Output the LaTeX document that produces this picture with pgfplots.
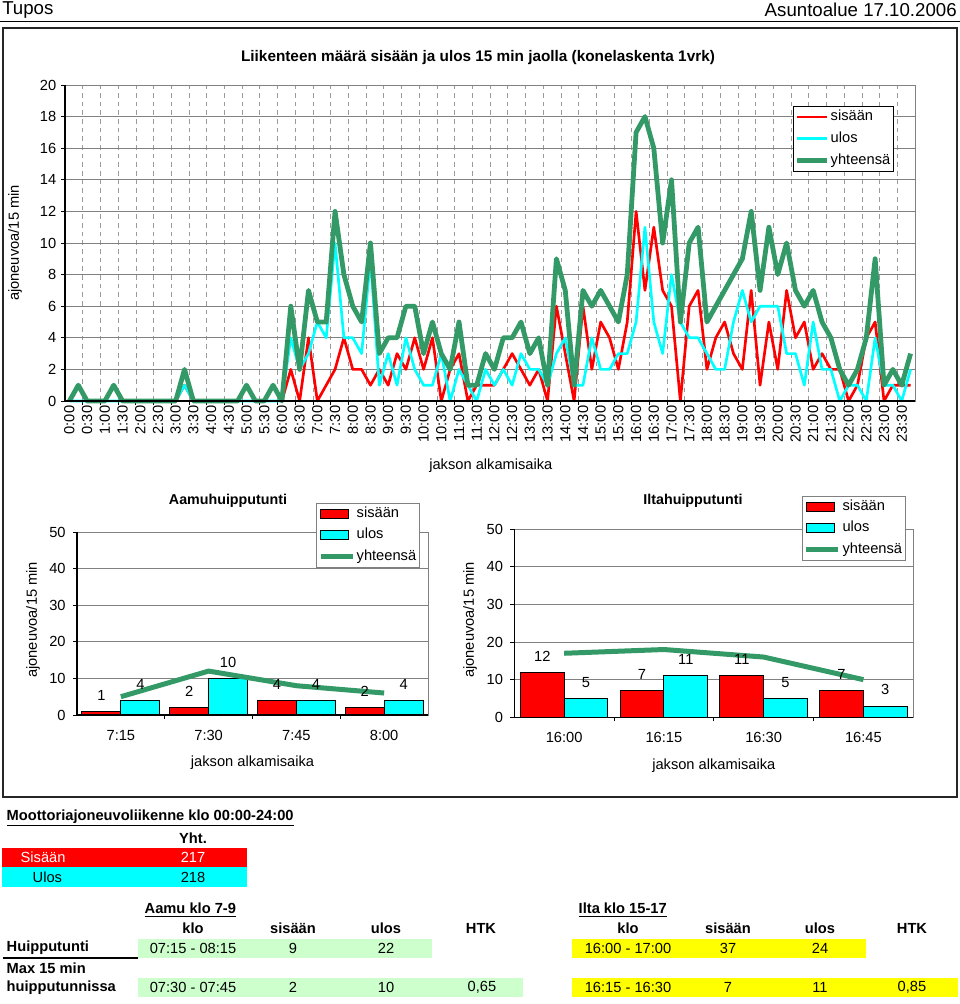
\documentclass[border=0pt]{standalone}
\usepackage{fontspec}
\setmainfont{Liberation Sans}
\usepackage{pgfplots}
\pgfplotsset{compat=1.18}
\usepackage{pgfplotstable}
\definecolor{xred}{HTML}{FF0000}
\definecolor{xcyan}{HTML}{00FFFF}
\definecolor{xgreen}{HTML}{339966}
\definecolor{xgrid}{HTML}{808080}
\definecolor{lgreen}{HTML}{CCFFCC}
\definecolor{xyellow}{HTML}{FFFF00}
\newcommand\fs{\fontsize{11}{13}\selectfont}
\newcommand\fsb{\bfseries\fontsize{11}{13}\selectfont}

\pgfplotstableread{
i s u t
0 0 0 0
1 1 0 1
2 0 0 0
3 0 0 0
4 0 0 0
5 1 0 1
6 0 0 0
7 0 0 0
8 0 0 0
9 0 0 0
10 0 0 0
11 0 0 0
12 0 0 0
13 1 1 2
14 0 0 0
15 0 0 0
16 0 0 0
17 0 0 0
18 0 0 0
19 0 0 0
20 1 0 1
21 0 0 0
22 0 0 0
23 1 0 1
24 0 0 0
25 2 4 6
26 0 2 2
27 4 3 7
28 0 5 5
29 1 4 5
30 2 10 12
31 4 4 8
32 2 4 6
33 2 3 5
34 1 9 10
35 2 1 3
36 1 3 4
37 3 1 4
38 2 4 6
39 4 2 6
40 2 1 3
41 4 1 5
42 0 3 3
43 2 0 2
44 3 2 5
45 0 1 1
46 1 0 1
47 1 2 3
48 1 1 2
49 2 2 4
50 3 1 4
51 2 3 5
52 1 2 3
53 2 2 4
54 0 1 1
55 6 3 9
56 3 4 7
57 0 1 1
58 6 1 7
59 2 4 6
60 5 2 7
61 4 2 6
62 2 3 5
63 5 3 8
64 12 5 17
65 7 11 18
66 11 5 16
67 7 3 10
68 6 8 14
69 0 5 5
70 6 4 10
71 7 4 11
72 2 3 5
73 4 2 6
74 5 2 7
75 3 5 8
76 2 7 9
77 7 5 12
78 1 6 7
79 5 6 11
80 2 6 8
81 7 3 10
82 4 3 7
83 5 1 6
84 2 5 7
85 3 2 5
86 2 2 4
87 2 0 2
88 0 1 1
89 1 1 2
90 4 0 4
91 5 4 9
92 0 1 1
93 1 1 2
94 1 0 1
95 1 2 3
}\maindata

\pgfplotstableread{
i s u t
0 1 4 5
1 2 10 12
2 4 4 8
3 2 4 6
}\amdata

\pgfplotstableread{
i s u t
0 12 5 17
1 7 11 18
2 11 5 16
3 7 3 10
}\pmdata

\pgfplotsset{
  xlchart/.style={
    scale only axis, anchor=south west, clip=false,
    axis line style={xgrid},
    tick pos=left, tick align=outside,
    major tick length=0pt, minor tick length=3pt,
    every minor tick/.style={black, line width=0.6pt},
    /pgf/number format/assume math mode=true,
    tick label style={font=\fs},
    ymajorgrids, major grid style={xgrid, line width=0.7pt},
    label style={font=\fs},
    legend cell align=left,
  },
}

\begin{document}
\begin{tikzpicture}
\path[use as bounding box] (0pt,0pt) rectangle (720pt,753pt);
\begin{scope}[x=0.75pt,y=0.75pt]
% header
\node[anchor=west,font=\fontsize{14}{16}\selectfont,inner sep=0pt] at (2,994) {Tupos};
\node[anchor=east,font=\fontsize{14}{16}\selectfont,inner sep=0pt] at (957,994) {Asuntoalue 17.10.2006};
\draw[line width=0.75pt] (0,982) -- (960,982);
% frame
\draw[line width=1.1pt, black!85] (3,976) rectangle (957,207);
% titles
\node[font=\bfseries\fontsize{11.5}{13}\selectfont] at (478,946) {Liikenteen määrä sisään ja ulos 15 min jaolla (konelaskenta 1vrk)};
\node[font=\bfseries\fontsize{10.7}{13}\selectfont] at (228,503.3) {Aamuhuipputunti};
\node[font=\bfseries\fontsize{10.7}{13}\selectfont] at (693,503.3) {Iltahuipputunti};

% ---------------- table
\node[anchor=west,font=\fsb] at (2,186) {\underline{Moottoriajoneuvoliikenne klo 00:00-24:00}};
\node[font=\fsb] at (193,166) {Yht.};
\fill[xred] (2,156) rectangle (247,137);
\fill[xcyan] (2,137) rectangle (247,117);
\node[anchor=west,white,font=\fs] at (16,146.5) {Sisään};
\node[white,font=\fs] at (193,146.5) {217};
\node[anchor=west,font=\fs] at (28,127) {Ulos};
\node[font=\fs] at (193,127) {218};

\node[anchor=west,font=\fsb] at (140,94) {\underline{Aamu klo 7-9}};
\node[anchor=west,font=\fsb] at (574,94) {\underline{Ilta klo 15-17}};
\node[font=\fsb] at (193,76) {klo};
\node[font=\fsb] at (293,76) {sisään};
\node[font=\fsb] at (386,76) {ulos};
\node[font=\fsb] at (481,76) {HTK};
\node[font=\fsb] at (628,76) {klo};
\node[font=\fsb] at (728,76) {sisään};
\node[font=\fsb] at (820,76) {ulos};
\node[font=\fsb] at (912,76) {HTK};

\fill[lgreen] (138,65) rectangle (432,46);
\fill[xyellow] (572,65) rectangle (866,46);
\node[anchor=west,font=\fsb] at (2,56) {Huipputunti};
\draw[line width=0.8pt] (3,46) -- (138,46);
\node[font=\fs] at (193,56) {07:15 - 08:15};
\node[font=\fs] at (293,56) {9};
\node[font=\fs] at (386,56) {22};
\node[font=\fs] at (628,56) {16:00 - 17:00};
\node[font=\fs] at (728,56) {37};
\node[font=\fs] at (820,56) {24};

\node[anchor=west,font=\fsb] at (2,36) {Max 15 min};
\node[anchor=west,font=\fsb] at (2,16.5) {huipputunnissa};
\fill[lgreen] (138,26) rectangle (523,7);
\fill[xyellow] (572,26) rectangle (958,7);
\node[font=\fs] at (193,16.5) {07:30 - 07:45};
\node[font=\fs] at (293,16.5) {2};
\node[font=\fs] at (386,16.5) {10};
\node[font=\fs] at (482,16.5) {0,65};
\node[font=\fs] at (628,16.5) {16:15 - 16:30};
\node[font=\fs] at (728,16.5) {7};
\node[font=\fs] at (820,16.5) {11};
\node[font=\fs] at (912,16.5) {0,85};
\end{scope}

% ---------------- main chart
\begin{axis}[xlchart,
  at={(48.75pt,452.25pt)}, width=637.5pt, height=237pt,
  xmin=-0.5, xmax=95.5, ymin=0, ymax=20,
  ytick={0,2,...,20}, minor ytick={0,2,...,20},
  xtick={0,2,...,94},
  xticklabels={0:00,0:30,1:00,1:30,2:00,2:30,3:00,3:30,4:00,4:30,5:00,5:30,6:00,6:30,7:00,7:30,8:00,8:30,9:00,9:30,10:00,10:30,11:00,11:30,12:00,12:30,13:00,13:30,14:00,14:30,15:00,15:30,16:00,16:30,17:00,17:30,18:00,18:30,19:00,19:30,20:00,20:30,21:00,21:30,22:00,22:30,23:00,23:30},
  minor xtick={1.5,3.5,...,93.5},
  xminorgrids, minor grid style={xgrid!80, line width=0.5pt, dash pattern=on 3.5pt off 3pt},
  x tick label style={rotate=90, anchor=east, font=\fs},
  y tick label style={xshift=-3pt},
  xlabel={jakson alkamisaika}, ylabel={ajoneuvoa/15 min},
  xlabel style={at={(axis description cs:0.501,-0.206)}, anchor=center},
  ylabel style={at={(axis description cs:-0.0588,0.5)}, anchor=center},
  legend style={at={(rel axis cs:0.856,0.934)}, anchor=north west, draw=black, line width=0.6pt,
    font=\fs, inner sep=1.5pt, row sep=3.5pt,
    nodes={inner sep=1.2pt, text height=8pt, text depth=2.5pt}},
]
\addplot[xred, line width=2pt, line join=round,
  legend image code/.code={\draw[xred,line width=2pt] (0pt,0pt) -- (22pt,0pt);}] table[x=i,y=s] {\maindata};
\addlegendentry{sisään}
\addplot[xcyan, line width=2pt, line join=round,
  legend image code/.code={\draw[xcyan,line width=2pt] (0pt,0pt) -- (22pt,0pt);}] table[x=i,y=u] {\maindata};
\addlegendentry{ulos}
\addplot[xgreen, line width=3.6pt, line join=round,
  legend image code/.code={\draw[xgreen,line width=3.6pt] (0pt,0pt) -- (22pt,0pt);}] table[x=i,y=t] {\maindata};
\addlegendentry{yhteensä}
\draw[black, line width=0.8pt] (rel axis cs:0,1) -- (rel axis cs:0,0) -- (rel axis cs:1,0);
\end{axis}

% ---------------- morning chart
\begin{axis}[xlchart,
  at={(57.75pt,216.75pt)}, width=263.25pt, height=137.25pt,
  xmin=-0.5, xmax=3.5, ymin=0, ymax=50,
  ytick={0,10,...,50}, minor ytick={0,10,...,50},
  xtick={0,1,2,3}, xticklabels={7:15,7:30,7:45,8:00},
  minor xtick={0.5,1.5,2.5},
  x tick label style={yshift=-8pt},
  y tick label style={xshift=-5pt},
  xlabel={jakson alkamisaika}, ylabel={ajoneuvoa/15 min},
  xlabel style={at={(axis description cs:0.5,-0.262)}, anchor=center},
  ylabel style={at={(axis description cs:-0.125,0.52)}, anchor=center},
  legend style={at={(rel axis cs:0.680,1.158)}, anchor=north west, draw=xgrid, line width=0.6pt,
    font=\fs, inner sep=1.5pt, row sep=3pt,
    nodes={inner sep=1.2pt, text height=8pt, text depth=2.5pt}},
]
\addplot[ybar, bar width=29.25pt, bar shift=-14.625pt, fill=xred, draw=black, line width=0.75pt,
  nodes near coords, nodes near coords style={font=\fs, black, anchor=south, yshift=4.5pt, xshift=-14.625pt},
  legend image code/.code={\filldraw[fill=xred,draw=black,line width=0.75pt] (0pt,-3.4pt) rectangle (21pt,3.4pt);}]
  table[x=i,y=s] {\amdata};
\addlegendentry{sisään}
\addplot[ybar, bar width=29.25pt, bar shift=14.625pt, fill=xcyan, draw=black, line width=0.75pt,
  nodes near coords, nodes near coords style={font=\fs, black, anchor=south, yshift=4.5pt, xshift=14.625pt},
  legend image code/.code={\filldraw[fill=xcyan,draw=black,line width=0.75pt] (0pt,-3.4pt) rectangle (21pt,3.4pt);}]
  table[x=i,y=u] {\amdata};
\addlegendentry{ulos}
\addplot[xgreen, line width=3.75pt, line join=round,
  legend image code/.code={\draw[xgreen,line width=3.75pt] (0pt,0pt) -- (24pt,0pt);}]
  table[x=i,y=t] {\amdata};
\addlegendentry{yhteensä}
\draw[black, line width=0.8pt] (rel axis cs:0,1) -- (rel axis cs:0,0) -- (rel axis cs:1,0);
\end{axis}

% ---------------- evening chart
\begin{axis}[xlchart,
  at={(385.725pt,215.025pt)}, width=299.25pt, height=141.2pt,
  xmin=-0.5, xmax=3.5, ymin=0, ymax=50,
  ytick={0,10,...,50}, minor ytick={0,10,...,50},
  xtick={0,1,2,3}, xticklabels={16:00,16:15,16:30,16:45},
  minor xtick={0.5,1.5,2.5},
  x tick label style={yshift=-8pt},
  y tick label style={xshift=-5pt},
  xlabel={jakson alkamisaika}, ylabel={ajoneuvoa/15 min},
  xlabel style={at={(axis description cs:0.5,-0.259)}, anchor=center},
  ylabel style={at={(axis description cs:-0.111,0.517)}, anchor=center},
  legend style={at={(rel axis cs:0.720,1.175)}, anchor=north west, draw=xgrid, line width=0.6pt,
    font=\fs, inner sep=1.5pt, row sep=3pt,
    nodes={inner sep=1.2pt, text height=8pt, text depth=2.5pt}},
]
\addplot[ybar, bar width=32.8pt, bar shift=-16.4pt, fill=xred, draw=black, line width=0.75pt,
  nodes near coords, nodes near coords style={font=\fs, black, anchor=south, yshift=4.5pt, xshift=-16.4pt},
  legend image code/.code={\filldraw[fill=xred,draw=black,line width=0.75pt] (0pt,-3.4pt) rectangle (21pt,3.4pt);}]
  table[x=i,y=s] {\pmdata};
\addlegendentry{sisään}
\addplot[ybar, bar width=32.8pt, bar shift=16.4pt, fill=xcyan, draw=black, line width=0.75pt,
  nodes near coords, nodes near coords style={font=\fs, black, anchor=south, yshift=4.5pt, xshift=16.4pt},
  legend image code/.code={\filldraw[fill=xcyan,draw=black,line width=0.75pt] (0pt,-3.4pt) rectangle (21pt,3.4pt);}]
  table[x=i,y=u] {\pmdata};
\addlegendentry{ulos}
\addplot[xgreen, line width=3.75pt, line join=round,
  legend image code/.code={\draw[xgreen,line width=3.75pt] (0pt,0pt) -- (24pt,0pt);}]
  table[x=i,y=t] {\pmdata};
\addlegendentry{yhteensä}
\draw[black, line width=0.8pt] (rel axis cs:0,1) -- (rel axis cs:0,0) -- (rel axis cs:1,0);
\end{axis}
\end{tikzpicture}
\end{document}
